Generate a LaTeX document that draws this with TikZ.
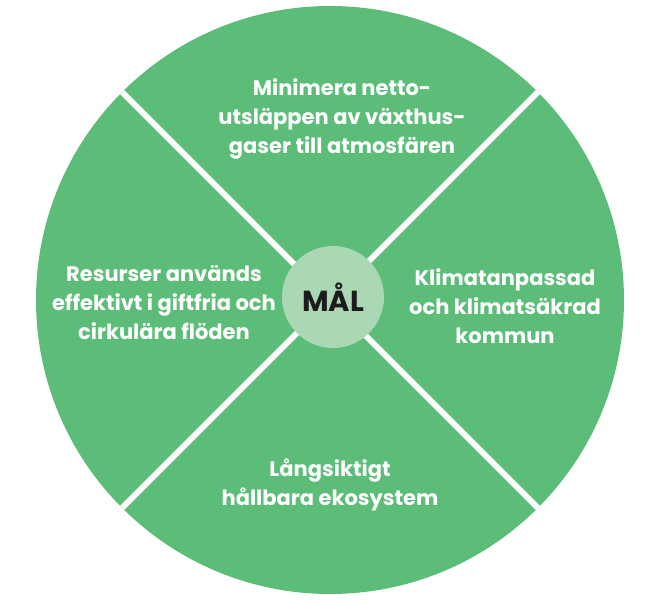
\documentclass[tikz,border=0pt]{standalone}
\usepackage{fontspec}
\setmainfont{Poppins}
\usepackage{tikz}
\usetikzlibrary{positioning}
\definecolor{wheelgreen}{RGB}{92,189,120}
\definecolor{hubgreen}{RGB}{170,216,180}
\definecolor{hubtext}{RGB}{28,28,28}

\begin{document}
\begin{tikzpicture}[x=1pt, y=-1pt,
    goal/.style={text=white, align=center, font=\bfseries\fontsize{21}{29}\selectfont}]
    \useasboundingbox (0,0) rectangle (665,605);
    \node(wheel) [circle, fill=wheelgreen, inner sep=0, outer sep=0, minimum size=588pt] at (330,300) {};
    \draw[white, line width=6pt](wheel.45) -- (wheel.225);
    \draw[white, line width=6pt](wheel.135) -- (wheel.315);
    \node(mal) [circle, fill=hubgreen, inner sep=0, minimum size=102pt, text=hubtext,
        font=\bfseries\fontsize{29}{32}\selectfont] at (333,297) {MÅL};
    \node(netto) [goal] at (342,119) {Minimera netto-\\utsläppen av växthus-\\gaser till atmosfären};
    \node(resurser) [goal] at (164,303) {Resurser används\\effektivt i giftfria och\\cirkulära flöden};
    \node(klimat) [goal] at (505,306) {Klimatanpassad\\och klimatsäkrad\\kommun};
    \node(eko) [goal] at (330,485) {Långsiktigt\\hållbara ekosystem};
\end{tikzpicture}
\end{document}
